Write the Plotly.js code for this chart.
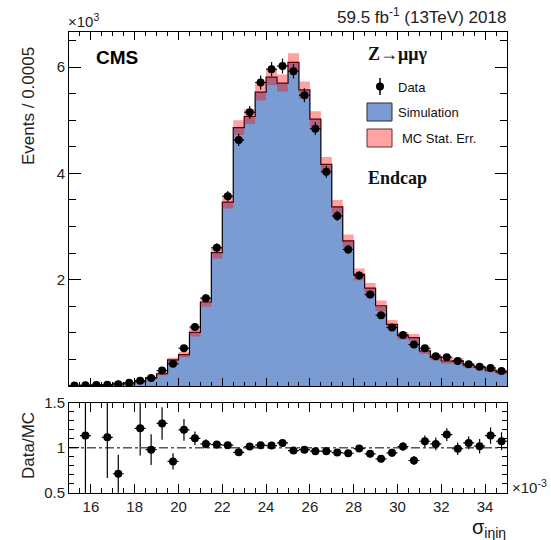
<!DOCTYPE html>
<html>
<head>
<meta charset="utf-8">
<script src="https://cdn.plot.ly/plotly-3.0.1.min.js"></script>
<style>
  html, body { margin: 0; padding: 0; background: #fff; }
  #chart { width: 551px; height: 540px; }
</style>
</head>
<body>
<div id="chart"></div>
<script>
// sigma_ietaieta distribution, Z -> mu mu gamma, endcap photons (units of 1e-3)
const binWidth = 0.5;
const sigmaCenters = [
  15.25, 15.75, 16.25, 16.75, 17.25, 17.75, 18.25, 18.75, 19.25, 19.75,
  20.25, 20.75, 21.25, 21.75, 22.25, 22.75, 23.25, 23.75, 24.25, 24.75,
  25.25, 25.75, 26.25, 26.75, 27.25, 27.75, 28.25, 28.75, 29.25, 29.75,
  30.25, 30.75, 31.25, 31.75, 32.25, 32.75, 33.25, 33.75, 34.25, 34.75
];

// Events per bin (x10^3)
const dataEvents = [
  0.010, 0.012, 0.020, 0.025, 0.035, 0.060, 0.100, 0.150, 0.290, 0.420,
  0.710, 1.110, 1.650, 2.600, 3.570, 4.630, 5.150, 5.710, 5.960, 6.020,
  5.920, 5.470, 4.840, 4.030, 3.200, 2.570, 2.080, 1.720, 1.330, 1.100,
  0.960, 0.780, 0.710, 0.560, 0.540, 0.470, 0.410, 0.360, 0.340, 0.280
];
const dataErr = [
  0.005, 0.006, 0.007, 0.008, 0.010, 0.012, 0.015, 0.020, 0.028, 0.035,
  0.045, 0.060, 0.070, 0.085, 0.100, 0.115, 0.120, 0.130, 0.135, 0.140,
  0.135, 0.130, 0.120, 0.110, 0.095, 0.085, 0.075, 0.070, 0.060, 0.055,
  0.050, 0.045, 0.045, 0.040, 0.040, 0.035, 0.035, 0.030, 0.030, 0.030
];
const simEvents = [
  0.006, 0.011, 0.012, 0.022, 0.049, 0.040, 0.082, 0.153, 0.230, 0.490,
  0.590, 1.010, 1.580, 2.510, 3.460, 4.860, 5.070, 5.530, 5.810, 5.700,
  6.090, 5.570, 5.020, 4.170, 3.370, 2.730, 2.100, 1.840, 1.510, 1.160,
  0.945, 0.910, 0.660, 0.540, 0.470, 0.475, 0.390, 0.355, 0.300, 0.260
];
const simStatErr = [
  0.005, 0.006, 0.006, 0.008, 0.010, 0.010, 0.015, 0.020, 0.030, 0.040,
  0.050, 0.080, 0.090, 0.110, 0.120, 0.140, 0.140, 0.160, 0.150, 0.160,
  0.170, 0.160, 0.150, 0.140, 0.130, 0.120, 0.110, 0.100, 0.100, 0.080,
  0.070, 0.070, 0.060, 0.060, 0.050, 0.050, 0.045, 0.040, 0.040, 0.035
];

// Data/MC ratio per bin (null where off scale)
const ratioValues = [
  null, 1.136, null, 1.117, 0.713, null, 1.216, 0.980, 1.270, 0.850,
  1.200, 1.106, 1.044, 1.036, 1.030, 0.950, 1.015, 1.030, 1.025, 1.055,
  0.970, 0.980, 0.963, 0.963, 0.948, 0.940, 0.992, 0.934, 0.879, 0.945,
  1.015, 0.860, 1.073, 1.044, 1.147, 0.990, 1.055, 1.018, 1.136, 1.073
];
const ratioErr = [
  0, 0.650, 0, 0.450, 0.210, 0, 0.300, 0.170, 0.180, 0.090,
  0.120, 0.075, 0.050, 0.040, 0.030, 0.030, 0.025, 0.025, 0.025, 0.025,
  0.025, 0.025, 0.030, 0.030, 0.030, 0.035, 0.035, 0.040, 0.040, 0.045,
  0.050, 0.050, 0.065, 0.070, 0.070, 0.070, 0.070, 0.080, 0.090, 0.100
];

const simColor = '#7b9bd3';
const bandColor = 'rgba(255, 0, 0, 0.37)';
const legendPink = '#ffa3a3';
const sans = 'Liberation Sans, Arial, Helvetica, sans-serif';
const serif = 'Liberation Serif, Times New Roman, serif';

// step-histogram edges
const last = sigmaCenters.length - 1;
const edges = sigmaCenters.map(c => c - binWidth / 2).concat([sigmaCenters[last] + binWidth / 2]);
const stepOf = arr => arr.concat([arr[arr.length - 1]]);
const bandLow = simEvents.map((v, i) => v - simStatErr[i]);
const bandHigh = simEvents.map((v, i) => v + simStatErr[i]);

const traces = [
  {
    x: edges, y: stepOf(simEvents), type: 'scatter', mode: 'lines',
    line: { shape: 'hv', color: '#000', width: 1.2 },
    fill: 'tozeroy', fillcolor: simColor, hoverinfo: 'skip',
    xaxis: 'x', yaxis: 'y'
  },
  {
    x: edges, y: stepOf(bandLow), type: 'scatter', mode: 'lines',
    line: { shape: 'hv', width: 0 }, hoverinfo: 'skip',
    xaxis: 'x', yaxis: 'y'
  },
  {
    x: edges, y: stepOf(bandHigh), type: 'scatter', mode: 'lines',
    line: { shape: 'hv', width: 0 }, fill: 'tonexty', fillcolor: bandColor,
    hoverinfo: 'skip', xaxis: 'x', yaxis: 'y'
  },
  {
    x: sigmaCenters, y: dataEvents, type: 'scatter', mode: 'markers',
    marker: { color: '#000', size: 8 },
    error_y: { type: 'data', array: dataErr, color: '#000', thickness: 1.2, width: 0 },
    error_x: { type: 'constant', value: binWidth / 2, color: '#000', thickness: 1.2, width: 0 },
    xaxis: 'x', yaxis: 'y'
  },
  {
    x: sigmaCenters, y: ratioValues, type: 'scatter', mode: 'markers',
    marker: { color: '#000', size: 8 },
    error_y: { type: 'data', array: ratioErr, color: '#000', thickness: 1.2, width: 0 },
    error_x: { type: 'constant', value: binWidth / 2, color: '#000', thickness: 1.2, width: 0 },
    xaxis: 'x2', yaxis: 'y2'
  }
];

// plot frame in pixels
const L = 69, R = 507, T = 32, B = 493;
const px = x => (x - L) / (R - L);
const py = y => (B - y) / (B - T);

const frameAxis = {
  showline: true, linecolor: '#000', linewidth: 1, mirror: 'allticks',
  ticks: 'inside', tickcolor: '#000', tickwidth: 1,
  showgrid: false, zeroline: false, fixedrange: true,
  tickfont: { family: sans, size: 15, color: '#222' }
};

const ann = (text, x, y, opts) => Object.assign({
  text: text, x: px(x), y: py(y), xref: 'paper', yref: 'paper',
  showarrow: false, xanchor: 'left', yanchor: 'middle',
  font: { family: sans, size: 13, color: '#111' }
}, opts || {});

const layout = {
  width: 551, height: 540,
  margin: { l: L, r: 551 - R, t: T, b: 540 - B, pad: 0 },
  paper_bgcolor: '#fff', plot_bgcolor: '#fff',
  showlegend: false,
  xaxis: Object.assign({}, frameAxis, {
    domain: [0, 1], anchor: 'y', range: [15, 35], matches: 'x2',
    showticklabels: false, tick0: 0, dtick: 2, ticklen: 8,
    minor: { tick0: 0, dtick: 0.5, ticklen: 4, ticks: 'inside', tickcolor: '#000' }
  }),
  yaxis: Object.assign({}, frameAxis, {
    domain: [py(386), 1], anchor: 'x', range: [0, 6.66],
    tickmode: 'array', tickvals: [2, 4, 6],
    ticklen: 12,
    minor: { tickmode: 'linear', tick0: 0, dtick: 0.5, ticklen: 7, ticks: 'inside', tickcolor: '#000' }
  }),
  xaxis2: Object.assign({}, frameAxis, {
    domain: [0, 1], anchor: 'y2', range: [15, 35],
    tick0: 0, dtick: 2, ticklen: 9,
    minor: { tick0: 0, dtick: 0.5, ticklen: 5, ticks: 'inside', tickcolor: '#000' }
  }),
  yaxis2: Object.assign({}, frameAxis, {
    domain: [0, py(402.7)], anchor: 'x2', range: [0.5, 1.5],
    tickmode: 'array', tickvals: [0.5, 1, 1.5], ticktext: ['0.5', '1', '1.5'],
    ticklen: 10,
    minor: { tickmode: 'linear', tick0: 0.5, dtick: 0.1, ticklen: 5, ticks: 'inside', tickcolor: '#000' }
  }),
  shapes: [
    // unity line in the ratio panel
    { type: 'line', xref: 'x2 domain', yref: 'y2', x0: 0, x1: 1, y0: 1, y1: 1,
      line: { color: '#000', width: 1, dash: 'dashdot' } },
    // legend swatches
    { type: 'line', xref: 'paper', yref: 'paper', x0: px(380), x1: px(380), y0: py(78), y1: py(95),
      line: { color: '#000', width: 1.5 } },
    { type: 'circle', xref: 'paper', yref: 'paper', x0: px(376), x1: px(384), y0: py(82.5), y1: py(90.5),
      fillcolor: '#000', line: { color: '#000', width: 0 } },
    { type: 'rect', xref: 'paper', yref: 'paper', x0: px(367), x1: px(392), y0: py(103), y1: py(121),
      fillcolor: simColor, line: { color: '#2a2a40', width: 1 } },
    { type: 'rect', xref: 'paper', yref: 'paper', x0: px(367), x1: px(392), y0: py(129), y1: py(147),
      fillcolor: legendPink, line: { color: '#5a3030', width: 1 } }
  ],
  annotations: [
    ann('×10<sup>3</sup>', 66, 21, { font: { family: sans, size: 15, color: '#222' } }),
    ann('59.5 fb<sup>-1</sup> (13TeV) 2018', 508, 16,
      { xanchor: 'right', font: { family: sans, size: 17, color: '#222' } }),
    ann('<b>CMS</b>', 94, 57, { font: { family: sans, size: 19, color: '#000' } }),
    ann('<b>Z→μμγ</b>', 366, 54, { font: { family: serif, size: 18, color: '#111' } }),
    ann('Data', 396, 87),
    ann('Simulation', 396, 112),
    ann('MC Stat. Err.', 400, 138),
    ann('<b>Endcap</b>', 366, 178, { font: { family: serif, size: 18, color: '#111' } }),
    ann('Events / 0.0005', 28, 106,
      { xanchor: 'center', textangle: -90, font: { family: sans, size: 17, color: '#222' } }),
    ann('Data/MC', 28, 446,
      { xanchor: 'center', textangle: -90, font: { family: sans, size: 17, color: '#222' } }),
    ann('×10<sup>-3</sup>', 510, 486, { font: { family: sans, size: 15, color: '#222' } }),
    ann('σ<sub>iηiη</sub>', 470, 528, { font: { family: sans, size: 20, color: '#111' } })
  ]
};

Plotly.newPlot('chart', traces, layout, { staticPlot: true, displayModeBar: false });
</script>
</body>
</html>
